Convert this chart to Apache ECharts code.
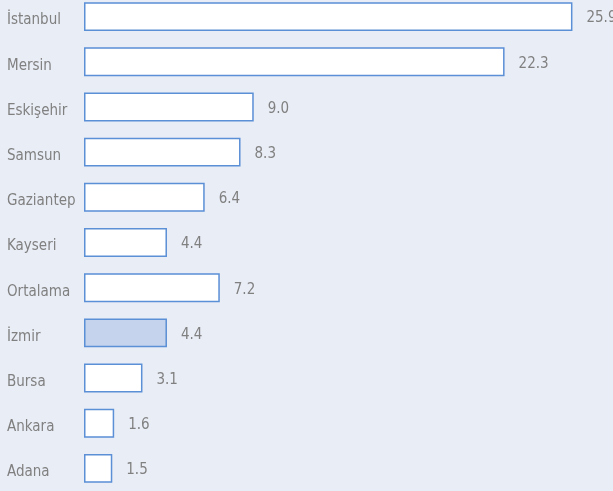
<!DOCTYPE html>
<html>
<head>
<meta charset="utf-8">
<script src="https://cdn.jsdelivr.net/npm/echarts@6/dist/echarts.min.js"></script>
<style>
  html, body { margin: 0; padding: 0; background: #e9edf6; overflow: hidden; }
  #chart { width: 613px; height: 497px; margin-top: -6px; }
</style>
</head>
<body>
<div id="chart"></div>
<script>
const cities = ['İstanbul', 'Mersin', 'Eskişehir', 'Samsun', 'Gaziantep', 'Kayseri', 'Ortalama', 'İzmir', 'Bursa', 'Ankara', 'Adana']
const values = [25.9, 22.3, 9.0, 8.3, 6.4, 4.4, 7.2, 4.4, 3.1, 1.6, 1.5]
const highlight = 'İzmir'

const labelFont = 'DejaVu Sans Condensed'
const textStyle = { color: '#808080', fontFamily: labelFont, fontSize: 15 }

const chart = echarts.init(document.getElementById('chart'))
chart.setOption({
  backgroundColor: '#e9edf6',
  animation: false,
  grid: { left: 84, right: 0, top: 0, bottom: 0 },
  xAxis: {
    type: 'value',
    min: 0,
    max: 28.05,
    show: false
  },
  yAxis: {
    type: 'category',
    inverse: true,
    data: cities,
    axisLine: { show: false },
    axisTick: { show: false },
    axisLabel: {
      align: 'left',
      margin: 77,
      formatter: (v) => '{t|' + v + '}',
      rich: { t: { ...textStyle, padding: [8, 0, 0, 0] } }
    }
  },
  series: [
    {
      type: 'bar',
      barWidth: '64%',
      data: values.map((v, i) => ({
        value: v,
        itemStyle: { color: cities[i] === highlight ? '#c5d3ec' : '#ffffff' }
      })),
      itemStyle: { borderColor: '#5b8fd6', borderWidth: 1.5 },
      label: {
        show: true,
        position: 'right',
        distance: 14,
        offset: [0, 2],
        ...textStyle,
        formatter: (p) => p.value.toFixed(1)
      }
    }
  ]
})
</script>
</body>
</html>
